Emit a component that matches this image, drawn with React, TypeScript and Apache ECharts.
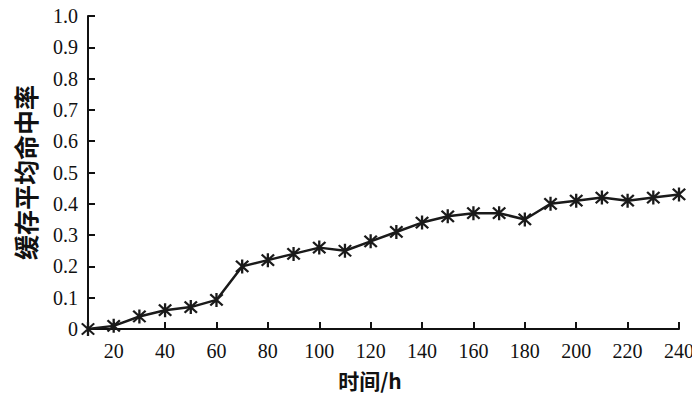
import React, { useEffect, useRef } from "react";
import * as echarts from "echarts";

const hours = ["10","20","30","40","50","60","70","80","90","100","110","120","130","140","150","160","170","180","190","200","210","220","230","240"];
const hitRate = [0, 0.01, 0.04, 0.06, 0.07, 0.093, 0.2, 0.22, 0.24, 0.26, 0.25, 0.28, 0.31, 0.34, 0.36, 0.37, 0.37, 0.35, 0.4, 0.41, 0.42, 0.41, 0.42, 0.43];
const yTitle = "缓存平均命中率";
const xTitle = "时间/h";

const starPath =
  "path://M8.5 0L11.5 0L11.5 20L8.5 20Z M0.9 3L3 0.9L19.1 17L17 19.1Z M17 0.9L19.1 3L3 19.1L0.9 17Z";

export default function App() {
  const ref = useRef<HTMLDivElement>(null);
  useEffect(() => {
    const chart = echarts.init(ref.current!, null, { renderer: "svg" });
    const font = "'Liberation Serif', 'Times New Roman', serif";
    const cjk = "'Noto Sans CJK SC', serif";
    chart.setOption({
      animation: false,
      backgroundColor: "#fff",
      grid: { left: 88, right: 21, top: 16, bottom: 64, outerBoundsMode: "none", containLabel: false },
      graphic: [
        {
          type: "text",
          x: 370,
          y: 380,
          style: {
            text: xTitle,
            fontSize: 21,
            fontWeight: "bold",
            fontFamily: cjk,
            fill: "#111",
            align: "center",
            verticalAlign: "middle",
          },
        },
      ],
      xAxis: {
        type: "category",
        data: hours,
        boundaryGap: false,
        axisLine: { lineStyle: { color: "#111", width: 2 } },
        axisTick: { inside: true, length: 7, lineStyle: { color: "#111", width: 2 }, interval: (i: number) => i % 2 === 1 },
        axisLabel: { interval: (i: number) => i % 2 === 1, fontSize: 20, color: "#111", fontFamily: font, margin: 12 },
        splitLine: { show: false },
      },
      yAxis: {
        type: "value",
        min: 0,
        max: 1,
        interval: 0.1,
        name: yTitle,
        nameLocation: "middle",
        nameGap: 51,
        nameRotate: 90,
        nameTextStyle: { fontSize: 25, color: "#111", fontFamily: cjk, fontWeight: "bold" },
        axisLine: { show: true, lineStyle: { color: "#111", width: 2 } },
        axisTick: { show: true, inside: true, length: 7, lineStyle: { color: "#111", width: 2 } },
        axisLabel: {
          fontSize: 20,
          color: "#111",
          fontFamily: font,
          margin: 10,
          formatter: (v: number) => (v === 0 ? "0" : v.toFixed(1)),
        },
        splitLine: { show: false },
      },
      series: [
        {
          type: "line",
          data: hitRate,
          symbol: starPath,
          symbolSize: 14,
          showAllSymbol: true,
          lineStyle: { color: "#1a1a1a", width: 2.5 },
          itemStyle: { color: "#1a1a1a" },
        },
      ],
    });
    return () => chart.dispose();
  }, []);
  return <div ref={ref} style={{ width: 700, height: 393, margin: "-8px -8px 0 -8px" }} />;
}
